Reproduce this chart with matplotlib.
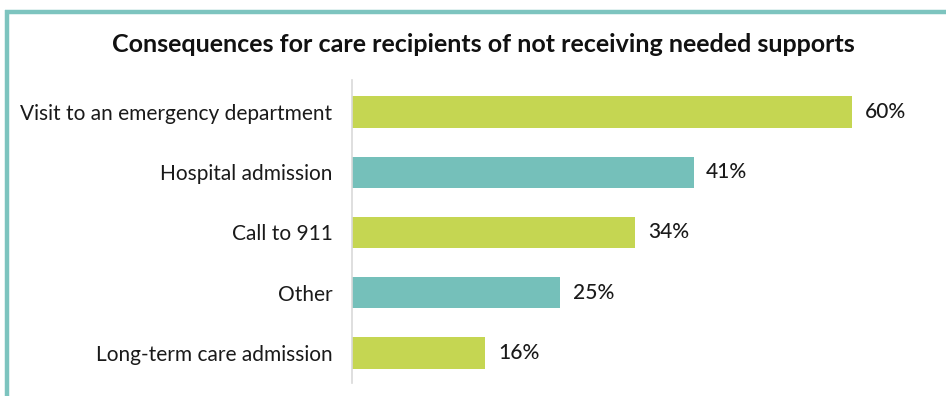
import matplotlib
matplotlib.use("Agg")
import matplotlib.pyplot as plt
from matplotlib.lines import Line2D

categories = ["Visit to an emergency department", "Hospital admission", "Call to 911",
              "Other", "Long-term care admission"]
values = [60, 41, 34, 25, 16]
colors = ["#C5D652", "#75C0BA", "#C5D652", "#75C0BA", "#C5D652"]
title = "Consequences for care recipients of not receiving needed supports"

W, H = 946, 396
fig = plt.figure(figsize=(W / 100, H / 100), dpi=100)
ax = fig.add_axes([352 / W, 1 - 383 / H, (852 - 352) / W, (383 - 80) / H])

y = list(range(len(categories)))
ax.barh(y, values, height=0.52, color=colors)
ax.set_xlim(0, 60)
ax.set_ylim(4.5, -0.53)
ax.set_yticks(y)
ax.set_yticklabels(categories, fontsize=15, family="Lato", color="#1a1a1a")
ax.tick_params(axis="y", length=0, pad=14)
ax.set_xticks([])
for s in ["top", "right", "bottom"]:
    ax.spines[s].set_visible(False)
ax.spines["left"].set_color("#d9d9d9")
ax.spines["left"].set_linewidth(1.2)

for yi, v in zip(y, values):
    ax.text(v + 1.5, yi, f"{v}%", va="center", ha="left", fontsize=15,
            family="Lato", fontweight="medium", color="#1a1a1a")

fig.text(483 / W, 1 - 44 / H, title, ha="center", va="center", fontsize=18,
         fontweight="bold", family="Lato", color="#111111")

border = "#7DC4BF"
fig.add_artist(Line2D([5 / W, 1], [1 - 12 / H, 1 - 12 / H], transform=fig.transFigure,
                      color=border, linewidth=3.2, solid_capstyle="butt"))
fig.add_artist(Line2D([6.5 / W, 6.5 / W], [1 - 10 / H, 0], transform=fig.transFigure,
                      color=border, linewidth=3.2, solid_capstyle="butt"))

fig.savefig("out.png", dpi=100)
